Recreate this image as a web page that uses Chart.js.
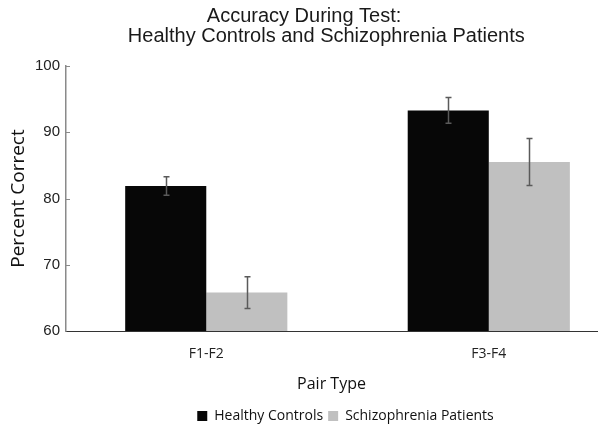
<!DOCTYPE html>
<html>
<head>
<meta charset="utf-8">
<script src="https://cdn.jsdelivr.net/npm/chart.js@4"></script>
<style>
    body { margin: 0; background: #ffffff; }
    #wrap { width: 600px; height: 433px; }
</style>
</head>
<body>
<div id="wrap"><canvas id="graphCanvas" width="600" height="433"></canvas></div>
<script>
// chart values
let pair_types = ["F1-F2", "F3-F4"];
let group_names = ["Healthy Controls", "Schizophrenia Patients"];
let controls_values = [81.9, 93.3];
let controls_errors = [1.4, 1.95];
let patients_values = [65.8, 85.5];
let patients_errors = [2.4, 3.55];
let y_ticks = [60, 70, 80, 90, 100];

let bar_colors = ["#070707", "#c0c0c0"];

const ctx = document.getElementById("graphCanvas").getContext("2d");

function toPoints(values) {
    return values.map((v, i) => ({ x: i, y: v }));
}

// draws the error whiskers on top of each bar, plus the little inner y ticks
const errorBars = {
    id: "errorBars",
    afterLayout(chart) {
        // the legend sits right of centre in the original
        chart.legend.left += 47;
        chart.legend.right += 47;
    },
    afterDatasetsDraw(chart) {
        const c = chart.ctx;
        const yScale = chart.scales.y;
        let errs = [controls_errors, patients_errors];
        c.save();
        c.strokeStyle = "#5a5a5a";
        c.lineWidth = 1.5;
        chart.data.datasets.forEach((ds, d) => {
            let meta = chart.getDatasetMeta(d);
            meta.data.forEach((bar, i) => {
                let v = ds.data[i].y;
                let top = yScale.getPixelForValue(v + errs[d][i]);
                let bottom = yScale.getPixelForValue(v - errs[d][i]);
                let x = Math.round(bar.x) + 0.5;
                c.beginPath();
                c.moveTo(x, top);
                c.lineTo(x, bottom);
                c.moveTo(x - 3, top);
                c.lineTo(x + 3, top);
                c.moveTo(x - 3, bottom);
                c.lineTo(x + 3, bottom);
                c.stroke();
            });
        });

        // short ticks pointing into the plot
        c.strokeStyle = "#8a8a8a";
        c.lineWidth = 1;
        y_ticks.slice(1).forEach((t) => {
            let y = Math.round(yScale.getPixelForValue(t)) + 0.5;
            c.beginPath();
            c.moveTo(chart.chartArea.left, y);
            c.lineTo(chart.chartArea.left + 4, y);
            c.stroke();
        });
        c.restore();
    }
};

let chart = new Chart(ctx, {
    type: "bar",
    data: {
        datasets: [
            {
                label: group_names[0],
                data: toPoints(controls_values),
                backgroundColor: bar_colors[0],
                borderWidth: 0,
            },
            {
                label: group_names[1],
                data: toPoints(patients_values),
                backgroundColor: bar_colors[1],
                borderWidth: 0,
            },
        ],
    },
    options: {
        responsive: false,
        animation: false,
        devicePixelRatio: 1,
        layout: { padding: { top: 6, left: 0, right: 3, bottom: 0 } },
        datasets: { bar: { categoryPercentage: 0.574, barPercentage: 1.0 } },
        scales: {
            x: {
                type: "linear",
                offset: false,
                min: -0.4965,
                max: 1.383,
                afterBuildTicks: (scale) => {
                    scale.ticks = pair_types.map((p, i) => ({ value: i }));
                },
                afterFit: (scale) => { scale.height = 73; },
                ticks: {
                    callback: (value) => pair_types[value],
                    color: "#222",
                    font: { family: "Open Sans", size: 14 },
                    padding: 15,
                    maxRotation: 0,
                },
                grid: { display: false, drawTicks: false },
                border: { color: "#333", width: 1 },
                title: {
                    display: true,
                    text: "Pair Type",
                    color: "#111",
                    font: { family: "Open Sans", size: 16 },
                    padding: { top: 12, bottom: 10 },
                },
            },
            y: {
                min: 60,
                max: 100,
                afterBuildTicks: (scale) => {
                    scale.ticks = y_ticks.map((v) => ({ value: v }));
                },
                afterFit: (scale) => { scale.width = 66; },
                ticks: {
                    color: "#222",
                    font: { family: "Liberation Sans", size: 15 },
                    padding: 6,
                },
                grid: { display: false, drawTicks: false },
                border: { color: "#8a8a8a", width: 1.5 },
                title: {
                    display: true,
                    text: "Percent Correct",
                    color: "#111",
                    font: { family: "Open Sans", size: 19 },
                    padding: { top: 7, bottom: 2 },
                },
            },
        },
        plugins: {
            title: {
                display: true,
                text: ["  Accuracy During Test:", "          Healthy Controls and Schizophrenia Patients"],
                color: "#1a1a1a",
                font: { family: "Liberation Sans", size: 20, weight: "normal", lineHeight: 1.0 },
                padding: { top: 0, bottom: 20 },
            },
            legend: {
                position: "bottom",
                labels: {
                    boxWidth: 10,
                    boxHeight: 10,
                    color: "#111",
                    font: { family: "Open Sans", size: 14 },
                    padding: 5,
                },
            },
            tooltip: { enabled: false },
        },
    },
    plugins: [errorBars],
});
</script>
</body>
</html>
